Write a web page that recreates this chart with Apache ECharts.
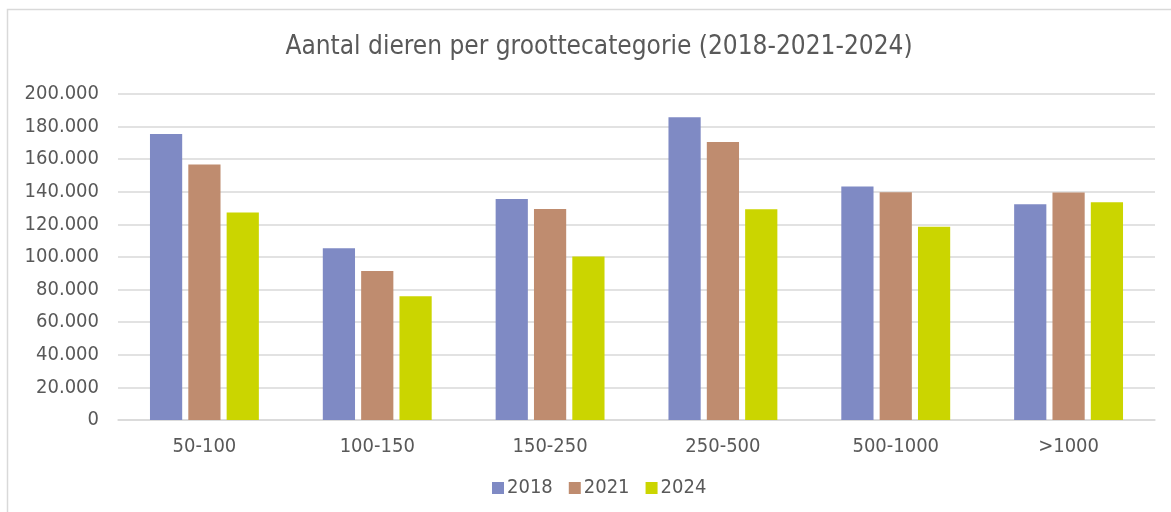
<!DOCTYPE html>
<html>
<head>
<meta charset="utf-8">
<script src="https://cdn.jsdelivr.net/npm/echarts@6/dist/echarts.min.js"></script>
<style>
html,body{margin:0;padding:0;background:#fff;}
#chart{width:1171px;height:512px;}
</style>
</head>
<body>
<div id="chart"></div>
<script>
const categories = ['50-100', '100-150', '150-250', '250-500', '500-1000', '>1000'];
const seriesNames = ['2018', '2021', '2024'];
const values2018 = [175500, 105300, 135600, 185800, 143300, 132400];
const values2021 = [156700, 91400, 129500, 170500, 139800, 139500];
const values2024 = [127300, 75900, 100300, 129300, 118600, 133600];
const colors = ['#7F8AC4', '#BF8C6F', '#CBD500'];
const titleText = 'Aantal dieren per groottecategorie (2018-2021-2024)';

const FONT = 'DejaVu Sans Condensed';
const chart = echarts.init(document.getElementById('chart'));
const fmt = v => String(v).replace(/\B(?=(\d{3})+(?!\d))/g, '.');
const dataSets = [values2018, values2021, values2024];

chart.setOption({
  animation: false,
  backgroundColor: '#fff',
  textStyle: { fontFamily: FONT },
  graphic: [{
    type: 'rect', silent: true,
    shape: { x: 7.5, y: 9.5, width: 1300, height: 700 },
    style: { fill: 'none', stroke: '#D9D9D9', lineWidth: 1.5 }
  }],
  title: {
    text: titleText,
    left: 594, top: 29, textAlign: 'center',
    textStyle: { fontFamily: FONT, fontSize: 26, fontWeight: 'normal', color: '#595959' }
  },
  legend: {
    data: seriesNames,
    left: 487, top: 473,
    icon: 'rect', itemWidth: 12, itemHeight: 12, itemGap: 16,
    textStyle: { fontFamily: FONT, fontSize: 20, color: '#595959', padding: [0, 0, 0, -2] }
  },
  grid: { left: 118, right: 16, top: 94, bottom: 92, containLabel: false },
  xAxis: {
    type: 'category', data: categories,
    axisLine: { lineStyle: { color: '#D9D9D9', width: 1.5 } },
    axisTick: { show: false },
    axisLabel: { color: '#595959', fontSize: 20, fontFamily: FONT, margin: 17 }
  },
  yAxis: {
    type: 'value', min: 0, max: 200000, interval: 20000,
    axisLine: { show: false }, axisTick: { show: false },
    splitLine: { lineStyle: { color: '#D9D9D9', width: 1.5 } },
    axisLabel: { color: '#595959', fontSize: 20, fontFamily: FONT, margin: 19, formatter: fmt }
  },
  series: seriesNames.map((n, i) => ({
    name: n, type: 'bar', data: dataSets[i],
    barGap: '19%', barCategoryGap: '37%',
    itemStyle: { color: colors[i] }
  }))
});
</script>
</body>
</html>
